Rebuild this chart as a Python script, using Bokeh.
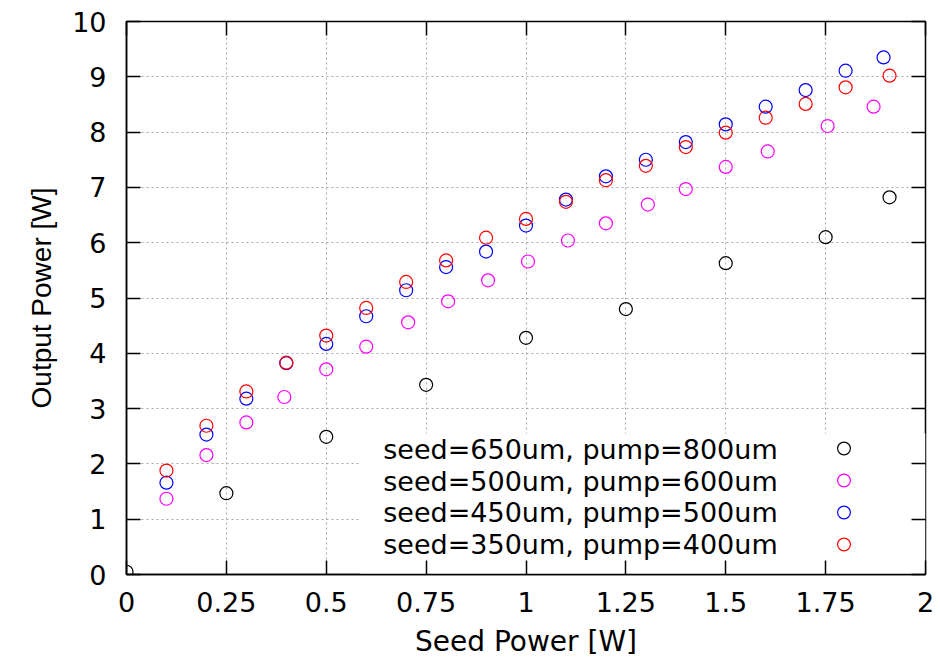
from bokeh.plotting import figure
from bokeh.embed import file_html
from bokeh.resources import INLINE
from bokeh.core.properties import value
from bokeh.models import (Range1d, LinearAxis, FixedTicker, Legend, LegendItem,
                          Label, BoxAnnotation)

# ---------------- data ----------------
x_ticks = [0, 0.25, 0.5, 0.75, 1.0, 1.25, 1.5, 1.75, 2.0]
x_tick_labels = ["0", "0.25", "0.5", "0.75", "1", "1.25", "1.5", "1.75", "2"]
y_ticks = [0, 1, 2, 3, 4, 5, 6, 7, 8, 9, 10]

s650_x = [0.0, 0.25, 0.5, 0.75, 1.0, 1.25, 1.5, 1.75, 1.91]
s650_y = [0.05, 1.47, 2.49, 3.43, 4.28, 4.80, 5.63, 6.10, 6.82]

s500_x = [0.10, 0.20, 0.30, 0.395, 0.50, 0.60, 0.705, 0.805, 0.905, 1.005,
          1.105, 1.20, 1.305, 1.40, 1.50, 1.605, 1.755, 1.87]
s500_y = [1.37, 2.16, 2.75, 3.21, 3.71, 4.12, 4.56, 4.94, 5.32, 5.66,
          6.04, 6.35, 6.69, 6.97, 7.37, 7.65, 8.11, 8.46]

s450_x = [0.1, 0.2, 0.3, 0.4, 0.5, 0.6, 0.7, 0.8, 0.9, 1.0,
          1.1, 1.2, 1.3, 1.4, 1.5, 1.6, 1.7, 1.8, 1.895]
s450_y = [1.66, 2.53, 3.18, 3.82, 4.17, 4.67, 5.14, 5.56, 5.84, 6.31,
          6.78, 7.20, 7.50, 7.82, 8.14, 8.46, 8.76, 9.11, 9.35]

s350_x = [0.1, 0.2, 0.3, 0.4, 0.5, 0.6, 0.7, 0.8, 0.9, 1.0,
          1.1, 1.2, 1.3, 1.4, 1.5, 1.6, 1.7, 1.8, 1.91]
s350_y = [1.88, 2.69, 3.31, 3.83, 4.32, 4.82, 5.29, 5.68, 6.09, 6.43,
          6.74, 7.13, 7.39, 7.73, 7.99, 8.26, 8.51, 8.81, 9.02]

series_names = ["seed=650um, pump=800um", "seed=500um, pump=600um",
                "seed=450um, pump=500um", "seed=350um, pump=400um"]
series_colors = ["#000000", "#ff00ff", "#0000ff", "#ff0000"]
series_x = [s650_x, s500_x, s450_x, s350_x]
series_y = [s650_y, s500_y, s450_y, s350_y]

# ---------------- style ----------------
FONT = "DejaVu Sans"
TICK_FS = "27px"

p = figure(width=940, height=667, x_range=Range1d(0, 2), y_range=Range1d(0, 10),
           output_backend="svg", toolbar_location=None,
           min_border_left=126, min_border_right=15, min_border_top=21,
           min_border_bottom=93)
p.background_fill_color = "white"
p.border_fill_color = "white"
p.outline_line_color = "#000000"
p.outline_line_width = 1.5

# grid
p.xgrid.ticker = FixedTicker(ticks=x_ticks)
p.ygrid.ticker = FixedTicker(ticks=y_ticks)
for g in (p.xgrid, p.ygrid):
    g.grid_line_color = "#a8a8a8"
    g.grid_line_dash = "2 3"
    g.grid_line_width = 1

# main axes
xa = p.xaxis[0]
ya = p.yaxis[0]
xa.ticker = FixedTicker(ticks=x_ticks)
xa.major_label_overrides = {t: l for t, l in zip(x_ticks, x_tick_labels)}
ya.ticker = FixedTicker(ticks=y_ticks)
for ax in (xa, ya):
    ax.major_tick_in = 14
    ax.major_tick_out = 0
    ax.minor_tick_line_color = None
    ax.major_tick_line_width = 1.5
    ax.major_tick_line_color = "#000000"
    ax.axis_line_color = "#000000"
    ax.axis_line_width = 1.5
    ax.major_label_text_font = FONT
    ax.major_label_text_font_size = TICK_FS
    ax.major_label_text_color = "#000000"
    ax.axis_label_text_font_style = "normal"
    ax.axis_label_text_color = "#000000"
    ax.level = "overlay"
xa.major_label_standoff = 17
xa.axis_label = "Seed Power [W]"
xa.axis_label_text_font = FONT
xa.axis_label_text_font_size = "28px"
xa.axis_label_standoff = 10
ya.major_label_standoff = 20
ya.axis_label = "Output Power [W]"
ya.axis_label_text_font = "Liberation Sans"
ya.axis_label_text_font_size = "28px"
ya.axis_label_standoff = 12

# mirror ticks on top and right (no labels)
top = LinearAxis(ticker=FixedTicker(ticks=x_ticks),
                 major_label_overrides={t: "" for t in x_ticks})
right = LinearAxis(ticker=FixedTicker(ticks=y_ticks),
                   major_label_overrides={t: "" for t in y_ticks})
for ax in (top, right):
    ax.major_tick_in = 14
    ax.major_tick_out = 0
    ax.minor_tick_line_color = None
    ax.major_tick_line_width = 1.5
    ax.major_tick_line_color = "#000000"
    ax.axis_line_color = None
    ax.major_label_standoff = 0
    ax.level = "overlay"
p.add_layout(top, "above")
p.add_layout(right, "right")

# key background (masks grid like gnuplot's opaque key)
p.add_layout(BoxAnnotation(left=0.585, right=2.0, bottom=0.0, top=2.55,
                           fill_color="white", fill_alpha=1.0, line_color=None))

# data
rends = []
for xs, ys, c in zip(series_x, series_y, series_colors):
    r = p.scatter(xs, ys, marker="circle", size=13, fill_color=None,
                  line_color=c, line_width=1.2)
    rends.append(r)

# key: symbols (right) via Legend, texts (left) right-aligned
legend = Legend(items=[LegendItem(label=value(""), renderers=[r]) for r in rends],
                location=(701, 14), glyph_width=33, glyph_height=32, spacing=0,
                padding=0, margin=0, label_standoff=0, label_width=0,
                label_height=0, background_fill_alpha=0, border_line_color=None)
p.add_layout(legend)

key_text_x = 1.63
key_text_y = [2.265, 1.685, 1.115, 0.545]
for name, ky in zip(series_names, key_text_y):
    p.add_layout(Label(x=key_text_x, y=ky, text=name, text_align="right",
                       text_baseline="middle", text_font=FONT,
                       text_font_size="27px", text_color="#000000"))

open("out.html", "w").write(file_html(p, INLINE))
